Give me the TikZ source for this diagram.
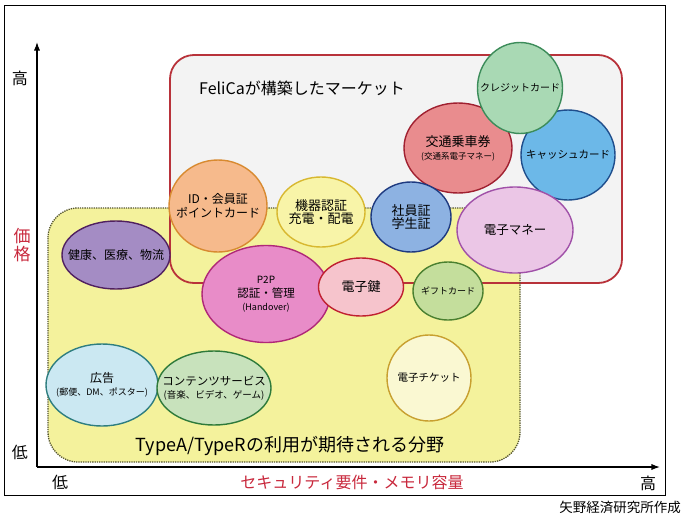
\documentclass[tikz,border=0pt]{standalone}
\usepackage{fontspec}
\setmainfont{Noto Sans CJK JP}
\usepackage{tikz}
\usetikzlibrary{arrows.meta, shapes.geometric}
\definecolor{felicabg}{HTML}{F3F3F3}
\definecolor{felicaline}{HTML}{B8323A}
\definecolor{typebg}{HTML}{F4F29C}
\definecolor{typeline}{HTML}{55552E}
\definecolor{axisred}{HTML}{C8283C}
\definecolor{creditfill}{HTML}{A9D9B4}
\definecolor{creditline}{HTML}{3C8C5A}
\definecolor{transitfill}{HTML}{E98C8E}
\definecolor{transitline}{HTML}{A02030}
\definecolor{cashfill}{HTML}{6CB8E8}
\definecolor{cashline}{HTML}{1F4E8C}
\definecolor{idfill}{HTML}{F6BA8C}
\definecolor{idline}{HTML}{D88A30}
\definecolor{devicefill}{HTML}{F8F4A8}
\definecolor{deviceline}{HTML}{D8B830}
\definecolor{stafffill}{HTML}{8DB2E2}
\definecolor{staffline}{HTML}{1E3A80}
\definecolor{emoneyfill}{HTML}{EBC6E6}
\definecolor{emoneyline}{HTML}{A050A8}
\definecolor{healthfill}{HTML}{A48CC4}
\definecolor{healthline}{HTML}{502060}
\definecolor{ptopfill}{HTML}{E88CC8}
\definecolor{ptopline}{HTML}{B02878}
\definecolor{ekeyfill}{HTML}{F6C4CC}
\definecolor{ekeyline}{HTML}{C02030}
\definecolor{giftfill}{HTML}{C4DE9C}
\definecolor{giftline}{HTML}{4A8030}
\definecolor{adfill}{HTML}{CBE8F2}
\definecolor{adline}{HTML}{2E7E80}
\definecolor{contentfill}{HTML}{C8E2BC}
\definecolor{contentline}{HTML}{2E7A3A}
\definecolor{ticketfill}{HTML}{FAF8D2}
\definecolor{ticketline}{HTML}{C8A030}
\newcommand{\fs}[1]{\fontsize{#1}{#1}\selectfont}
\tikzset{
  bubble/.style = {ellipse, line width=1.4pt, inner sep=0pt},
  btext/.style  = {align=center, inner sep=0pt, font=\fs{12}},
  axis/.style   = {-{Latex[length=3mm,width=2.2mm]}, line width=1.4pt},
  axlabel/.style= {font=\fs{16}, inner sep=0pt},
}

\begin{document}
\begin{tikzpicture}[x=1pt, y=-1pt]
  \useasboundingbox (0,0) rectangle (688,525);
  \draw[line width=1pt] (4,5) rectangle (665,495);

  % regions
  \fill[felicabg, rounded corners=24pt] (170,55) rectangle (622,283);
  \fill[typebg, rounded corners=30pt] (48,208) rectangle (520,462);
  \draw[felicaline, line width=1.8pt, rounded corners=24pt] (170,55) rectangle (622,283);
  \draw[typeline, line width=1.3pt, densely dotted, rounded corners=30pt] (48,208) rectangle (520,462);

  \node[anchor=west, font=\fs{16}, inner sep=0pt] (felicalabel) at (199,88) {FeliCaが構築したマーケット};
  \node[font=\fs{18}, inner sep=0pt] (typelabel) at (290,446) {TypeA/TypeRの利用が期待される分野};

  % axes
  \coordinate (origin) at (37,467);
  \coordinate (ytip) at (37,42);
  \coordinate (xtip) at (660,467);
  \draw[axis] (origin) -- (ytip);
  \draw[axis] (origin) -- (xtip);

  \node[axlabel] (yhigh) at (20,78) {高};
  \node[axlabel, axisred, align=center, font=\fs{17}] (price) at (22,245) {価\\[1pt]格};
  \node[axlabel] (ylow) at (20,452) {低};
  \node[axlabel] (xlow) at (60,482) {低};
  \node[axlabel] (xhigh) at (648,483) {高};
  \node[axlabel, axisred] (security) at (352,482) {セキュリティ要件・メモリ容量};
  \node[font=\fs{13.5}, inner sep=0pt, anchor=east] (source) at (681,507) {矢野経済研究所作成};

  % bubbles
  \node[bubble, fill=transitfill, draw=transitline, minimum width=108pt, minimum height=90pt,
        label={[btext]center:{\fs{13}交通乗車券}\\[1pt]{\fs{8.5}(交通系電子マネー)}}] (transit) at (458,148) {};
  \node[bubble, fill=cashfill, draw=cashline, minimum width=94pt, minimum height=90pt,
        label={[btext, font=\fs{10.5}]center:キャッシュカード}] (cash) at (568,155) {};
  \node[bubble, fill=creditfill, draw=creditline, minimum width=85pt, minimum height=91pt,
        label={[btext, font=\fs{10}]center:クレジットカード}] (credit) at (520,88) {};
  \node[bubble, fill=idfill, draw=idline, minimum width=98pt, minimum height=92pt,
        label={[btext]center:ID・会員証\\[2pt]ポイントカード}] (idcard) at (218,206) {};
  \node[bubble, fill=devicefill, draw=deviceline, minimum width=88pt, minimum height=70pt,
        label={[btext, font=\fs{13}]center:機器認証\\充電・配電}] (device) at (321,212) {};
  \node[bubble, fill=stafffill, draw=staffline, minimum width=80pt, minimum height=70pt,
        label={[btext, font=\fs{13}]center:社員証\\学生証}] (staff) at (411,217) {};
  \node[bubble, fill=emoneyfill, draw=emoneyline, minimum width=116pt, minimum height=86pt,
        label={[btext, font=\fs{12.5}]center:電子マネー}] (emoney) at (515,230) {};
  \node[bubble, fill=healthfill, draw=healthline, minimum width=108pt, minimum height=68pt,
        label={[btext]center:健康、医療、物流}] (health) at (116,255) {};
  \node[bubble, fill=ptopfill, draw=ptopline, minimum width=128pt, minimum height=97pt,
        label={[btext]center:{\fs{10}P2P}\\[2pt]{\fs{11.5}認証・管理}\\[1pt]{\fs{9}(Handover)}}] (ptop) at (266,294) {};
  \node[bubble, fill=ekeyfill, draw=ekeyline, minimum width=85pt, minimum height=58pt,
        label={[btext, font=\fs{13}]center:電子鍵}] (ekey) at (361,287) {};
  \node[bubble, fill=giftfill, draw=giftline, minimum width=70pt, minimum height=58pt,
        label={[btext, font=\fs{9}]center:ギフトカード}] (gift) at (448,291) {};
  \node[bubble, fill=adfill, draw=adline, minimum width=112pt, minimum height=82pt,
        label={[btext]center:広告\\[1pt]{\fs{9}(郵便、DM、ポスター)}}] (ad) at (102,385) {};
  \node[bubble, fill=contentfill, draw=contentline, minimum width=114pt, minimum height=74pt,
        label={[btext]center:{\fs{11.5}コンテンツサービス}\\[1pt]{\fs{9.5}(音楽、ビデオ、ゲーム)}}] (content) at (214,388) {};
  \node[bubble, fill=ticketfill, draw=ticketline, minimum width=84pt, minimum height=86pt,
        label={[btext, font=\fs{10.5}]center:電子チケット}] (ticket) at (429,378) {};

\end{tikzpicture}
\end{document}
